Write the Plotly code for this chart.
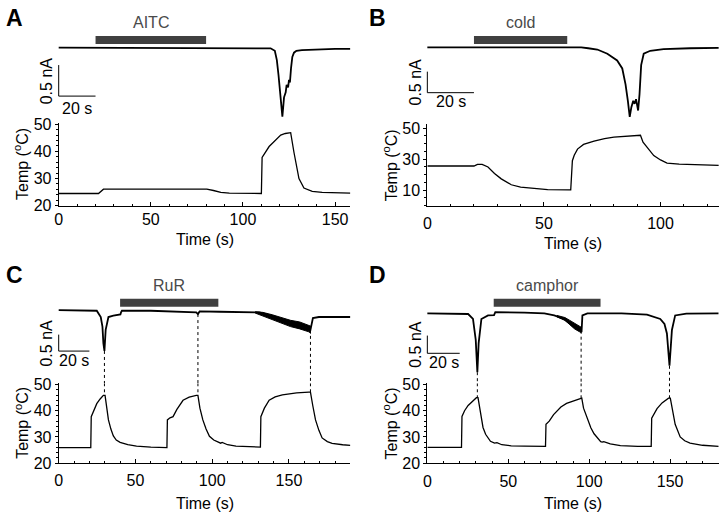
import plotly.graph_objects as go

W, H = 720, 521
FONT = "Arial, 'Liberation Sans', sans-serif"

# ---------------- data ----------------
# Panel A (AITC)
A_cur_t = [0, 60, 110, 115, 117.3, 118.4, 119.3, 120.2, 121.1, 121.4, 122.3, 123.2, 123.7, 124.5, 125.0, 125.5, 126.1, 126.8, 127.7, 129, 132, 140, 150, 158.3]
A_cur_v = [0, 0, 0, -0.01, -0.05, -0.20, -0.44, -0.72, -1.01, -1.11, -0.80, -0.72, -0.60, -0.64, -0.52, -0.56, -0.33, -0.15, -0.08, -0.05, -0.04, -0.03, -0.02, -0.02]
A_tmp_t = [0, 21.6, 24.3, 40, 60, 80.4, 84, 88, 92.6, 100, 110.0, 110.4, 112.4, 114.2, 116, 118, 120.5, 123, 125, 125.9, 127.7, 130.4, 133.1, 137.6, 143, 150.2, 158.3]
A_tmp_v = [24.5, 24.5, 26.1, 26.1, 26.1, 26.1, 25.6, 24.9, 24.6, 24.5, 24.5, 37.8, 40.0, 41.8, 43.0, 44.5, 46.0, 46.6, 46.8, 46.9, 39.6, 30.0, 26.5, 25.3, 24.9, 24.7, 24.6]
A_bar = [20, 80]
A_label = "AITC"

# Panel B (cold)
B_cur_t = [0, 60, 66, 69, 72.9, 77.2, 81.4, 83.6, 85.0, 86.0, 86.8, 87.5, 88.3, 88.9, 89.5, 90.4, 91.0, 91.7, 92.8, 95.6, 101.3, 112.7, 125]
B_cur_v = [0, 0, 0, -0.02, -0.05, -0.15, -0.31, -0.50, -0.88, -1.27, -1.65, -1.42, -1.27, -1.34, -1.23, -1.50, -1.11, -0.42, -0.15, -0.08, -0.04, -0.02, -0.01]
B_tmp_t = [0, 20, 21.5, 23.5, 26, 28.8, 31.7, 36, 40, 43, 47, 51.6, 60.8, 61.5, 62.2, 63, 64.4, 67, 71.5, 76, 80, 85, 90.7, 91.4, 92.5, 94.2, 97.1, 100, 102.8, 108, 114, 125]
B_tmp_v = [25.6, 25.6, 26.7, 26.6, 25.0, 20.8, 17.3, 13.5, 12.0, 11.5, 10.8, 10.4, 10.2, 10.2, 29.0, 32.5, 36.5, 39.5, 41.7, 43.3, 44.2, 44.9, 45.4, 45.4, 41.0, 37.5, 32.3, 29.5, 27.5, 26.8, 26.5, 26.0]
B_bar = [20, 60]
B_label = "cold"

# Panel C (RuR)
C_cur_t = [0, 20, 24.8, 27.4, 28.5, 29.1, 29.8, 30.6, 31.5, 32.4, 35.6, 40.2, 40.6, 41.2, 60, 72.3, 89.6, 90.7, 91.8, 105, 115.5, 125, 130.6, 135, 141.4, 146, 152.2, 157, 161.9, 164, 164.6, 165.6, 169.5, 180, 190]
C_cur_v = [0, 0, -0.02, -0.21, -0.50, -1.00, -1.24, -0.60, -0.35, -0.21, -0.17, -0.13, -0.07, -0.02, -0.02, -0.05, -0.07, -0.12, -0.04, -0.05, -0.05, -0.06, -0.07, -0.12, -0.21, -0.32, -0.41, -0.46, -0.54, -0.60, -0.45, -0.24, -0.21, -0.20, -0.21]
C_band_t = [128, 133, 139, 146, 151, 157, 163, 164.3]
C_band_hi = [-0.05, -0.07, -0.14, -0.24, -0.31, -0.36, -0.45, -0.49]
C_band_lo = [-0.09, -0.18, -0.29, -0.42, -0.50, -0.57, -0.66, -0.71]
C_tmp_t = [0, 20.9, 21.2, 23, 24.8, 27, 29.1, 30.2, 31.2, 32.4, 34, 35.6, 37.5, 40, 45, 50.7, 60, 70.5, 70.8, 72.5, 74.5, 77, 81, 85, 89.6, 90.7, 92, 93.9, 96, 98.2, 101, 104.7, 105.5, 106.5, 110, 115.5, 125, 131.4, 131.7, 134, 137.1, 141, 145.7, 150, 155, 163, 164, 165.5, 167.3, 169.5, 171.6, 175, 178.1, 185, 190]
C_tmp_v = [25.9, 25.9, 37.7, 40.5, 42.7, 44.5, 45.9, 45.9, 41.0, 36.5, 33.0, 30.4, 28.8, 27.9, 27.0, 26.5, 26.1, 25.9, 36.5, 37.3, 37.75, 40.5, 44.0, 45.2, 45.9, 45.9, 41.0, 36.5, 33.0, 30.25, 28.8, 27.75, 27.6, 27.9, 27.0, 26.5, 26.2, 26.1, 37.75, 41.0, 44.0, 45.3, 46.1, 46.5, 46.8, 47.1, 47.1, 42.0, 36.5, 32.5, 29.6, 28.2, 27.5, 27.0, 26.75]
C_bar = [40, 104]
C_label = "RuR"
C_links = [29.8, 90.7, 164]
C_link_cur = [-1.24, -0.12, -0.60]
C_link_tmp = [45.9, 45.9, 47.1]

# Panel D (camphor)
D_cur_t = [0, 20, 25.2, 28.2, 29.9, 30.9, 31.7, 33.4, 37.5, 41.2, 42, 60, 72.3, 78.4, 84.5, 89.7, 93.8, 94.8, 95.3, 95.8, 98.9, 120, 135.7, 143.9, 146.5, 148, 149.6, 151.1, 153.1, 160, 180]
D_cur_v = [0, 0, -0.02, -0.16, -0.75, -1.66, -0.84, -0.16, -0.06, -0.05, 0.03, 0.02, 0, -0.06, -0.16, -0.34, -0.43, -0.49, -0.50, -0.06, 0, 0, -0.04, -0.16, -0.30, -0.57, -1.48, -0.47, -0.06, -0.01, 0]
D_band_t = [80, 85, 88, 91, 94, 95.3]
D_band_hi = [-0.06, -0.12, -0.20, -0.28, -0.36, -0.40]
D_band_lo = [-0.10, -0.20, -0.32, -0.44, -0.52, -0.55]
D_tmp_t = [0, 21.1, 21.4, 23, 25.2, 28, 30.3, 31.3, 32.5, 34.4, 36, 37.5, 39, 41.5, 42.3, 43, 46, 51.8, 60, 73, 73.3, 75.3, 78, 82.5, 86, 90.7, 94.8, 95.4, 96.5, 98.9, 101, 103, 105, 107.1, 108, 109, 113, 119.3, 130, 138.3, 138.6, 140, 141.9, 145, 149, 150.1, 151.5, 153.1, 156.2, 159, 162.3, 170, 180]
D_tmp_v = [26.0, 26.0, 37.8, 40.0, 42.0, 43.8, 45.0, 45.0, 40.0, 33.6, 31.0, 29.4, 28.3, 27.6, 27.6, 27.8, 27.0, 26.6, 26.5, 26.4, 34.8, 36.0, 38.5, 41.4, 42.8, 43.9, 44.8, 44.8, 41.0, 36.6, 33.5, 31.2, 29.5, 28.2, 28.0, 28.2, 27.3, 26.7, 26.4, 26.4, 37.2, 39.0, 40.8, 43.0, 44.8, 44.8, 40.0, 34.8, 30.0, 28.5, 27.6, 26.8, 26.4]
D_bar = [41, 107]
D_label = "camphor"
D_links = [30.9, 95.0, 149.6]
D_link_cur = [-1.66, -0.49, -1.48]
D_link_tmp = [45.0, 44.8, 44.8]

X_TICKS = [0, 50, 100, 150]
Y_TICKS_ACD = [20, 30, 40, 50]
Y_TICKS_B = [10, 30, 50]

# ---------------- layout geometry (pixels) ----------------
panels = [
    dict(letter="A", lx=10.5, ly=11, cur_t=A_cur_t, cur_v=A_cur_v, tmp_t=A_tmp_t, tmp_v=A_tmp_v,
         bar=A_bar, label=A_label, bar_y=0.125, band=None, links=None,
         tx0=55, tx1=348.3, tmax=158.3, ty_bot=205, ty_top=119.6, yr=[20, 50.5],
         yticks=Y_TICKS_ACD, yminor=2, cur_top=4, zero=42, ppn=64, sb_top=-0.28, sb_txt=-12,
         tick_std=-1, time_shift=-34),
    dict(letter="B", lx=376, ly=11, cur_t=B_cur_t, cur_v=B_cur_v, tmp_t=B_tmp_t, tmp_v=B_tmp_v,
         bar=B_bar, label=B_label, bar_y=0.177, band=None, links=None,
         tx0=425.7, tx1=718.8, tmax=125, ty_bot=205, ty_top=121, yr=[0, 52.5],
         yticks=Y_TICKS_B, yminor=5, cur_top=4, zero=41.7, ppn=43.4, sb_top=-0.576, sb_txt=-9,
         tick_std=3, time_shift=-38),
    dict(letter="C", lx=10.5, ly=277, cur_t=C_cur_t, cur_v=C_cur_v, tmp_t=C_tmp_t, tmp_v=C_tmp_v,
         bar=C_bar, label=C_label, bar_y=0.226, band=(C_band_t, C_band_hi, C_band_lo),
         links=(C_links, C_link_cur, C_link_tmp),
         tx0=55, tx1=348.3, tmax=190, ty_bot=470.5, ty_top=388.2, yr=[20, 50.5],
         yticks=Y_TICKS_ACD, yminor=2, cur_top=268, zero=312.7, ppn=34, sb_top=-0.744, sb_txt=-9,
         tick_std=3, time_shift=-40),
    dict(letter="D", lx=376, ly=277, cur_t=D_cur_t, cur_v=D_cur_v, tmp_t=D_tmp_t, tmp_v=D_tmp_v,
         bar=D_bar, label=D_label, bar_y=0.30, band=(D_band_t, D_band_hi, D_band_lo),
         links=(D_links, D_link_cur, D_link_tmp),
         tx0=425.7, tx1=718.7, tmax=180, ty_bot=470.5, ty_top=388.2, yr=[20, 50.5],
         yticks=Y_TICKS_ACD, yminor=2, cur_top=268, zero=316, ppn=36.6, sb_top=-0.628, sb_txt=-9,
         tick_std=4, time_shift=-40),
]


def fx(px):
    return px / W


def fy(py):
    return 1 - py / H


def ref(n):
    s = "" if n == 1 else str(n)
    return "x" + s, "y" + s, "xaxis" + s, "yaxis" + s


fig = go.Figure()
layout = dict(width=W, height=H, margin=dict(l=0, r=0, t=0, b=0),
              paper_bgcolor="white", plot_bgcolor="white", showlegend=False,
              font=dict(family=FONT, size=16, color="black"))
annotations = []

for i, p in enumerate(panels):
    xt, yt, kxt, kyt = ref(2 * i + 1)  # temperature axes
    xc, yc, kxc, kyc = ref(2 * i + 2)  # current axes
    pps = (p["tx1"] - p["tx0"]) / p["tmax"]
    pad = 22
    layout[kxt] = dict(
        domain=[fx(p["tx0"]), fx(p["tx1"])], range=[0, p["tmax"]], anchor=yt,
        showline=True, linecolor="black", linewidth=1, showgrid=False, zeroline=False,
        ticks="inside", ticklen=4, tickwidth=1, tickcolor="black", tickvals=X_TICKS,
        minor=dict(dtick=10, tick0=0, ticks="inside", ticklen=2, tickcolor="black", showgrid=False),
        tickfont=dict(size=16, color="black", family=FONT), ticklabelstandoff=p["tick_std"])
    layout[kyt] = dict(
        domain=[fy(p["ty_bot"]), fy(p["ty_top"])], range=p["yr"], anchor=xt,
        showline=True, linecolor="black", linewidth=1, showgrid=False, zeroline=False,
        ticks="outside", ticklen=3, tickwidth=1, tickcolor="black", tickvals=p["yticks"],
        minor=dict(dtick=p["yminor"], tick0=0, ticks="outside", ticklen=2, tickcolor="black", showgrid=False),
        tickfont=dict(size=16, color="black", family=FONT))
    cur_lo = (p["zero"] - p["ty_top"]) / p["ppn"]
    cur_hi = (p["zero"] - p["cur_top"]) / p["ppn"]
    layout[kxc] = dict(domain=[fx(p["tx0"] - pad), fx(p["tx1"])], range=[-pad / pps, p["tmax"]],
                       anchor=yc, visible=False)
    layout[kyc] = dict(domain=[fy(p["ty_top"]), fy(p["cur_top"])], range=[cur_lo, cur_hi],
                       anchor=xc, visible=False)

    fig.add_trace(go.Scatter(x=p["tmp_t"], y=p["tmp_v"], mode="lines", xaxis=xt, yaxis=yt,
                             line=dict(color="black", width=1.3), hoverinfo="skip"))
    if p["band"] is not None:
        bt, bh, bl = p["band"]
        fig.add_trace(go.Scatter(x=bt, y=bh, mode="lines", xaxis=xc, yaxis=yc,
                                 line=dict(color="black", width=1), hoverinfo="skip"))
        fig.add_trace(go.Scatter(x=bt, y=bl, mode="lines", xaxis=xc, yaxis=yc, fill="tonexty",
                                 fillcolor="black", line=dict(color="black", width=1), hoverinfo="skip"))
    fig.add_trace(go.Scatter(x=p["cur_t"], y=p["cur_v"], mode="lines", xaxis=xc, yaxis=yc,
                             line=dict(color="black", width=1.8), hoverinfo="skip"))
    fig.add_trace(go.Scatter(x=p["bar"], y=[p["bar_y"], p["bar_y"]], mode="lines", xaxis=xc, yaxis=yc,
                             line=dict(color="#404040", width=8), hoverinfo="skip"))
    annotations.append(dict(x=sum(p["bar"]) / 2, y=p["bar_y"], xref=xc, yref=yc, yshift=17,
                            text=p["label"], showarrow=False, xanchor="center", yanchor="middle",
                            font=dict(size=16, color="#4a4a4a", family=FONT)))
    sb_bot = p["sb_top"] - 0.5
    fig.add_trace(go.Scatter(x=[0, 0, 20], y=[p["sb_top"], sb_bot, sb_bot], mode="lines",
                             xaxis=xc, yaxis=yc, line=dict(color="black", width=1), hoverinfo="skip"))
    annotations.append(dict(x=0, y=p["sb_top"] - 0.25, xref=xc, yref=yc, xshift=-12, textangle=-90,
                            text="0.5 nA", showarrow=False, xanchor="center", yanchor="middle",
                            font=dict(size=16, color="black", family=FONT)))
    annotations.append(dict(x=10, y=sb_bot, xref=xc, yref=yc, yshift=p["sb_txt"],
                            text="20 s", showarrow=False, xanchor="center", yanchor="middle",
                            font=dict(size=16, color="black", family=FONT)))
    if p["links"] is not None:
        lt, lc, lm = p["links"]
        for t, c, m in zip(lt, lc, lm):
            fig.add_trace(go.Scatter(x=[t, t], y=[c, cur_lo], mode="lines", xaxis=xc, yaxis=yc,
                                     line=dict(color="black", width=1, dash="3px,3px"), hoverinfo="skip"))
            fig.add_trace(go.Scatter(x=[t, t], y=[p["yr"][1], m], mode="lines", xaxis=xt, yaxis=yt,
                                     line=dict(color="black", width=1, dash="3px,3px"), hoverinfo="skip"))
    annotations.append(dict(x=0, y=0.5, xref=f"{xt} domain", yref=f"{yt} domain", xshift=-37,
                            textangle=-90, text="Temp (<sup>o</sup>C)", showarrow=False,
                            xanchor="center", yanchor="middle", font=dict(size=16, color="black", family=FONT)))
    annotations.append(dict(x=0.5, y=0, xref=f"{xt} domain", yref=f"{yt} domain", yshift=p["time_shift"],
                            text="Time (s)", showarrow=False, xanchor="center", yanchor="middle",
                            font=dict(size=16, color="black", family=FONT)))
    annotations.append(dict(x=fx(p["lx"]), y=fy(p["ly"]), xref="paper", yref="paper",
                            text=f"<b>{p['letter']}</b>", showarrow=False, xanchor="center", yanchor="middle",
                            font=dict(size=23, color="black", family=FONT)))

layout["annotations"] = annotations
fig.update_layout(**layout)
fig.write_html("out.html", config={"displayModeBar": False},
               post_script="document.body.style.margin='0';document.body.style.padding='0';")
